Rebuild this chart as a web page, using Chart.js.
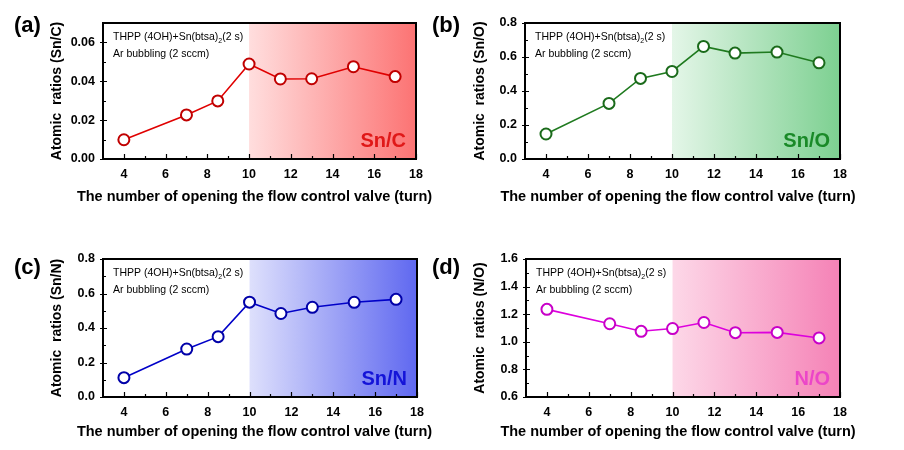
<!DOCTYPE html>
<html>
<head>
<meta charset="utf-8">
<script src="https://cdn.jsdelivr.net/npm/chart.js@4.4.1/dist/chart.umd.min.js"></script>
<style>
  html,body{margin:0;padding:0;background:#fff;}
  #wrap{position:relative;width:904px;height:450px;overflow:hidden;background:#fff;}
  canvas{position:absolute;}
</style>
</head>
<body>
<div id="wrap">
  <canvas id="ca"></canvas>
  <canvas id="cb"></canvas>
  <canvas id="cc"></canvas>
  <canvas id="cd"></canvas>
</div>
<script>
// ---- data ----
const turns = [4, 7, 8.5, 10, 11.5, 13, 15, 17];
const snC = [0.0099, 0.0227, 0.0299, 0.0489, 0.0412, 0.0413, 0.0475, 0.0424];
const snO = [0.147, 0.327, 0.474, 0.515, 0.662, 0.623, 0.629, 0.566];
const snN = [0.112, 0.278, 0.350, 0.550, 0.484, 0.520, 0.549, 0.566];
const nO  = [1.235, 1.131, 1.076, 1.096, 1.140, 1.066, 1.068, 1.028];

const xTicks = [4, 6, 8, 10, 12, 14, 16, 18];
const xMinor = [5, 7, 9, 11, 13, 15, 17];
const yTicksA = [0, 0.02, 0.04, 0.06];
const yMinorA = [0.01, 0.03, 0.05];
const yTicksBC = [0, 0.2, 0.4, 0.6, 0.8];
const yMinorBC = [0.1, 0.3, 0.5, 0.7];
const yTicksD = [0.6, 0.8, 1.0, 1.2, 1.4, 1.6];
const yMinorD = [0.7, 0.9, 1.1, 1.3, 1.5];

const xTitle = 'The number of opening the flow control valve (turn)';
const FONT = '"Liberation Sans", Arial, Helvetica, sans-serif';

const panels = [
  {id:'ca', tag:'(a)', big:'Sn/C', yTitle:'Atomic  ratios (Sn/C)', data:snC,
   yMin:0, yMax:0.07, yTicks:yTicksA, yMinor:yMinorA, dec:2,
   line:'#e00000', mark:'#c00000', bigColor:'#e01818',
   g0:'rgba(255,222,222,1)', g1:'rgba(252,115,115,1)',
   box:{left:0, top:0, w:440, h:225}, area:{l:103, t:23, r:416, b:159},
   yTitleX:57, xTitleX:254.5, xTitleY:196.7, tagX:14, tagY:26},
  {id:'cb', tag:'(b)', big:'Sn/O', yTitle:'Atomic  ratios (Sn/O)', data:snO,
   yMin:0, yMax:0.8, yTicks:yTicksBC, yMinor:yMinorBC, dec:1,
   line:'#1f7a1f', mark:'#1a6a1a', bigColor:'#1a8a28',
   g0:'rgba(228,246,232,1)', g1:'rgba(125,208,145,1)',
   box:{left:420, top:0, w:484, h:225}, area:{l:105, t:23, r:420, b:159},
   yTitleX:60, xTitleX:258, xTitleY:196.7, tagX:12, tagY:26},
  {id:'cc', tag:'(c)', big:'Sn/N', yTitle:'Atomic  ratios (Sn/N)', data:snN,
   yMin:0, yMax:0.8, yTicks:yTicksBC, yMinor:yMinorBC, dec:1,
   line:'#0000c8', mark:'#0000a8', bigColor:'#1414d8',
   g0:'rgba(222,224,252,1)', g1:'rgba(95,104,240,1)',
   box:{left:0, top:225, w:440, h:225}, area:{l:103, t:34, r:417, b:172},
   yTitleX:57, xTitleX:254.5, xTitleY:207, tagX:14, tagY:43},
  {id:'cd', tag:'(d)', big:'N/O', yTitle:'Atomic  ratios (N/O)', data:nO,
   yMin:0.6, yMax:1.6, yTicks:yTicksD, yMinor:yMinorD, dec:1,
   line:'#dd00dd', mark:'#c800c8', bigColor:'#ec46c8',
   g0:'rgba(253,216,232,1)', g1:'rgba(245,130,182,1)',
   box:{left:420, top:225, w:484, h:225}, area:{l:106, t:34, r:420, b:172},
   yTitleX:60, xTitleX:258, xTitleY:207, tagX:12, tagY:43}
];

function decorPlugin(p) {
  return {
    id:'decor_' + p.id,
    beforeDatasetsDraw(chart) {
      const {ctx, chartArea:a, scales:{x}} = chart;
      const x0 = x.getPixelForValue(10);
      const g = ctx.createLinearGradient(x0, 0, a.right, 0);
      g.addColorStop(0, p.g0);
      g.addColorStop(1, p.g1);
      ctx.save();
      ctx.fillStyle = g;
      ctx.fillRect(x0, a.top, a.right - x0, a.bottom - a.top);
      // annotation text
      ctx.fillStyle = '#000';
      ctx.textBaseline = 'middle';
      ctx.textAlign = 'left';
      ctx.font = '10.5px ' + FONT;
      let tx = a.left + 10, ty = a.top + 14;
      const s1 = 'THPP (4OH)+Sn(btsa)';
      ctx.fillText(s1, tx, ty);
      tx += ctx.measureText(s1).width;
      ctx.font = '7px ' + FONT;
      ctx.fillText('2', tx, ty + 4);
      tx += ctx.measureText('2').width;
      ctx.font = '10.5px ' + FONT;
      ctx.fillText('(2 s)', tx, ty);
      ctx.fillText('Ar bubbling (2 sccm)', a.left + 10, a.top + 31);
      // big label
      ctx.font = 'bold 20px ' + FONT;
      ctx.fillStyle = p.bigColor;
      ctx.textAlign = 'right';
      ctx.textBaseline = 'alphabetic';
      ctx.fillText(p.big, a.right - 10, a.bottom - 12);
      ctx.restore();
    },
    afterDraw(chart) {
      const {ctx, chartArea:a, scales:{x, y}} = chart;
      ctx.save();
      ctx.strokeStyle = '#000';
      ctx.lineWidth = 2;
      ctx.strokeRect(a.left, a.top, a.right - a.left, a.bottom - a.top);
      ctx.lineWidth = 1.2;
      ctx.beginPath();
      xTicks.forEach(v => { const px = Math.round(x.getPixelForValue(v)) + 0.5; ctx.moveTo(px, a.bottom); ctx.lineTo(px, a.bottom - 5); });
      xMinor.forEach(v => { const px = Math.round(x.getPixelForValue(v)) + 0.5; ctx.moveTo(px, a.bottom); ctx.lineTo(px, a.bottom - 3); });
      p.yTicks.forEach(v => { const py = Math.round(y.getPixelForValue(v)) + 0.5; ctx.moveTo(a.left - 3, py); ctx.lineTo(a.left + 4, py); });
      p.yMinor.forEach(v => { const py = Math.round(y.getPixelForValue(v)) + 0.5; ctx.moveTo(a.left, py); ctx.lineTo(a.left + 3, py); });
      ctx.stroke();
      // x axis title (drawn without width compression)
      ctx.fillStyle = '#000';
      ctx.font = 'bold 14.5px ' + FONT;
      ctx.textAlign = 'center';
      ctx.textBaseline = 'middle';
      ctx.fillText(xTitle, p.xTitleX, p.xTitleY);
      // panel tag
      ctx.font = 'bold 22px ' + FONT;
      ctx.textAlign = 'left';
      ctx.fillText(p.tag, p.tagX, p.tagY);
      ctx.restore();
    }
  };
}

panels.forEach(p => {
  const cv = document.getElementById(p.id);
  cv.width = p.box.w; cv.height = p.box.h;
  cv.style.left = p.box.left + 'px'; cv.style.top = p.box.top + 'px';
  cv.style.width = p.box.w + 'px'; cv.style.height = p.box.h + 'px';
  const yLH = 14 * 1.2;
  const padL = p.yTitleX - yLH / 2;
  new Chart(cv, {
    type:'line',
    data:{
      datasets:[{
        data: turns.map((t, i) => ({x:t, y:p.data[i]})),
        borderColor:p.line, borderWidth:1.6,
        pointRadius:5.5, pointBorderWidth:2,
        pointBorderColor:p.mark, pointBackgroundColor:'#ffffff',
        tension:0, fill:false
      }]
    },
    options:{
      responsive:false, animation:false, devicePixelRatio:1,
      layout:{padding:{left:padL, top:p.area.t, right:p.box.w - p.area.r, bottom:0}},
      plugins:{legend:{display:false}, tooltip:{enabled:false}},
      scales:{
        x:{
          type:'linear', min:3, max:18,
          afterBuildTicks: s => { s.ticks = xTicks.map(v => ({value:v})); },
          afterFit: s => { s.height = p.box.h - p.area.b; },
          grid:{display:false, drawTicks:false}, border:{display:false},
          ticks:{padding:8, color:'#000', maxRotation:0, autoSkip:false,
                 font:{family:FONT, size:12.5, weight:'bold'}, callback: v => String(v)},
          title:{display:false}
        },
        y:{
          type:'linear', min:p.yMin, max:p.yMax,
          afterBuildTicks: s => { s.ticks = p.yTicks.map(v => ({value:v})); },
          afterFit: s => { s.width = p.area.l - padL; },
          grid:{display:false, drawTicks:false}, border:{display:false},
          ticks:{padding:8, color:'#000', autoSkip:false,
                 font:{family:FONT, size:12.5, weight:'bold'}, callback: v => Number(v).toFixed(p.dec)},
          title:{display:true, text:p.yTitle, color:'#000', padding:{top:0, bottom:0},
                 font:{family:FONT, size:14, weight:'bold'}}
        }
      }
    },
    plugins:[decorPlugin(p)]
  });
});
</script>
</body>
</html>
